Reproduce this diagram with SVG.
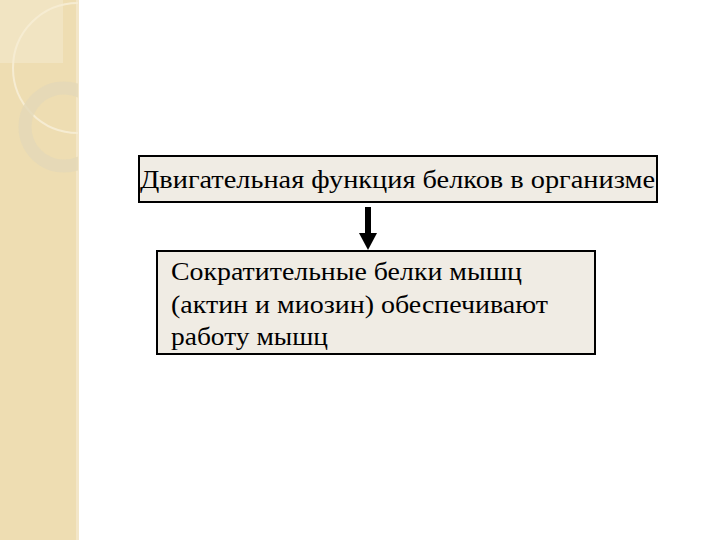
<svg xmlns="http://www.w3.org/2000/svg" width="720" height="540" viewBox="0 0 720 540">
<defs>
<clipPath id="strip"><rect x="0" y="0" width="78" height="540"/></clipPath>
</defs>
<style>
.box{fill:#F0ECE4;stroke:#000;stroke-width:2}
.t{font-family:'Liberation Serif','Times New Roman',serif;fill:#000}
</style>
<rect width="720" height="540" fill="#fff"/>
<g id="background">
<rect x="0" y="0" width="78" height="540" fill="#EEDDB2"/>
<rect x="76" y="0" width="3" height="540" fill="#F3E6C8"/>
<g clip-path="url(#strip)">
<rect x="0" y="0" width="63" height="63" fill="#F1E4C2"/>
<circle cx="78" cy="68" r="65" fill="none" stroke="#F6ECD2" stroke-width="2"/>
<circle cx="64" cy="127" r="39" fill="none" stroke="#E4D8B8" stroke-width="13" opacity="0.8"/>
</g>
</g>
<g id="connectors">
<line x1="368" y1="207" x2="368" y2="234" stroke="#000" stroke-width="6"/>
<path d="M359,233 L377,233 L368,250 Z" fill="#000"/>
</g>
<g id="node-top">
<rect class="box" x="139" y="156" width="518" height="46"/>
<text class="t" x="140" y="188" font-size="25" textLength="515" lengthAdjust="spacingAndGlyphs">Двигательная функция белков в организме</text>
</g>
<g id="node-bottom">
<rect class="box" x="157" y="251" width="438" height="103"/>
<text class="t" font-size="26" x="171" y="280" textLength="351" lengthAdjust="spacingAndGlyphs">Сократительные белки мышц</text>
<text class="t" font-size="26" x="171" y="313" textLength="377" lengthAdjust="spacingAndGlyphs">(актин и миозин) обеспечивают</text>
<text class="t" font-size="26" x="171" y="345" textLength="157" lengthAdjust="spacingAndGlyphs">работу мышц</text>
</g>
</svg>
